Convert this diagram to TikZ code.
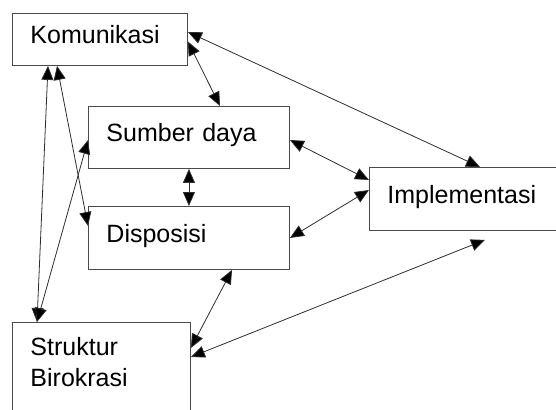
\documentclass[tikz,border=0pt]{standalone}
\usepackage{fontspec}
\setmainfont{Liberation Sans}
\usepackage{tikz}
\usetikzlibrary{arrows.meta, calc, positioning}

\definecolor{edge}{HTML}{4A4A4A}
\definecolor{wire}{HTML}{2E2E2E}

\begin{document}
\begin{tikzpicture}[x=1pt, y=-1pt, >={Triangle[length=14pt, width=12pt, fill=black]},
  font=\fontsize{25}{31}\selectfont,
  box/.style={draw=edge, line width=0.9pt, rectangle, anchor=north west, align=left, inner xsep=18pt, inner ysep=4pt},
  oneline/.style={text height=18pt, text depth=9pt},
  link/.style={<->, draw=wire, line width=0.8pt}]
  \useasboundingbox (0,0) rectangle (556,409);

  % the five factors
  \node[box, oneline, text width=139pt, minimum height=52pt] (kom) at (12,13) {Komunikasi};
  \node[box, oneline, text width=165pt, minimum height=62pt] (sum) at (88,106) {Sumber daya};
  \node[box, oneline, text width=165pt, minimum height=63pt] (dis) at (88,206) {Disposisi};
  \node[box, oneline, text width=154pt, minimum height=63pt] (imp) at (369,167) {Implementasi};
  \node[box, text width=142pt, inner ysep=15pt] (str) at (12,322) {\parbox[t][72pt][t]{142pt}{Struktur\\Birokrasi}};

  % links
  \draw[link] ([yshift=-19pt]kom.north east) -- ([xshift=111pt]imp.north west);
  \draw[link] ([yshift=-2pt]kom.east) -- ([xshift=132pt]sum.north west);
  \draw[link] ([xshift=36pt]kom.south west) -- ([xshift=25pt]str.north west);
  \draw[link] ([xshift=45pt]kom.south west) -- ([yshift=-20pt]dis.north west);
  \draw[link] ([xshift=25pt]str.north west) -- ([yshift=-34pt]sum.north west);
  \draw[link] (sum.south) -- (dis.north);
  \draw[link] ([yshift=-34pt]sum.north east) -- ([yshift=-13pt]imp.north west);
  \draw[link] (dis.east) -- ([yshift=-23pt]imp.north west);
  \draw[link] ([xshift=144pt]dis.south west) -- ([yshift=-26pt]str.north east);
  \draw[link] ([yshift=-35pt]str.north east) -- ([xshift=116pt, yshift=-9pt]imp.south west);
\end{tikzpicture}
\end{document}
